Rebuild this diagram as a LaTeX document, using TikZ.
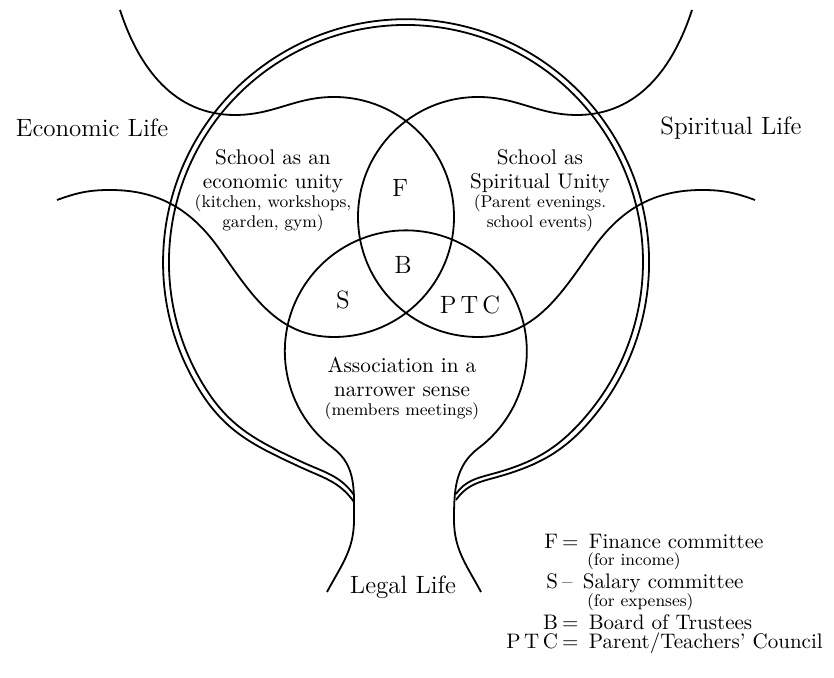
\documentclass[tikz,border=0pt]{standalone}
\usepackage{tikz}
\usetikzlibrary{positioning}

\begin{document}
\begin{tikzpicture}[x=0.5pt, y=0.5pt, line width=0.9pt,
    every node/.style={inner sep=0pt, outer sep=0pt},
    life/.style={font=\fontsize{12.5}{15}\selectfont},
    sphere/.style={align=center, font=\fontsize{10.6}{12}\selectfont},
    detail/.style={align=center, font=\fontsize{8.5}{10}\selectfont},
    letter/.style={font=\fontsize{12.5}{15}\selectfont},
    legendkey/.style={font=\fontsize{10.5}{12}\selectfont, anchor=base east},
    legend/.style={font=\fontsize{10.5}{12}\selectfont, anchor=base west},
    legendnote/.style={font=\fontsize{8.5}{10}\selectfont, anchor=base west}]
    \useasboundingbox (0,0) rectangle (834,678);

    % Economic life: stem to the upper left, round the left circle
    \draw (120,668) to[out=-72,in=180] (235,563) to[out=0,in=180] (334,581)
        arc[start angle=90, end angle=-90, radius=120]
        to[out=180,in=-55] (220,428) to[out=125,in=0] (110,488) to[out=180,in=20] (57,478);
    % Spiritual life: stem to the upper right, round the right circle
    \draw (692,668) to[out=-108,in=0] (577,563) to[out=180,in=0] (478,581)
        arc[start angle=90, end angle=270, radius=120]
        to[out=0,in=235] (592,428) to[out=55,in=180] (702,488) to[out=0,in=160] (755,478);
    % Legal life: lower circle with its stem
    \draw (327,86) to[out=62,in=270] (354,158) to[out=90,in=-37] (333,230)
        arc[start angle=233, end angle=-53, radius=121]
        to[out=217,in=90] (454,158) to[out=270,in=118] (481,86);

    % The school (double outline running into the stem)
    \draw (354,176) to[out=125,in=-25] (300,211) to[out=155,in=-58] (200,287)
        arc[start angle=212, end angle=-40, radius=243]
        to[out=230,in=15] (490,199) to[out=195,in=55] (456,178);
    \draw (354,183) to[out=125,in=-25] (302,216) to[out=155,in=-58] (205,290.4)
        arc[start angle=212, end angle=-40, radius=237]
        to[out=230,in=15] (492,204) to[out=195,in=55] (456,184);

    % Labels
    \node[life] (econlife) at (92,550) {Economic Life};
    \node[life] (spiritlife) at (731,550) {Spiritual Life};
    \node[life] (legallife) at (403,91) {Legal Life};

    \node[sphere] (econ) at (273,507) {School as an\\economic unity};
    \node[detail, below=1pt of econ] (econnote) {(kitchen, workshops,\\garden, gym)};
    \node[sphere] (spirit) at (540,507) {School as\\Spiritual Unity};
    \node[detail, below=1pt of spirit] (spiritnote) {(Parent evenings.\\school events)};
    \node[sphere] (assoc) at (402,301) {Association in a\\narrower sense};
    \node[detail, below=3pt of assoc] (assocnote) {(members meetings)};

    \node[letter] (F) at (400,490) {F};
    \node[letter] (B) at (403,413) {B};
    \node[letter] (S) at (343,378) {S};
    \node[letter] (PTC) at (470,373) {P\,T\,C};

    % Legend
    \node[legendkey] (keyF) at (558,129) {F};
    \node[legend] (legF) at (562,129) {= \,Finance committee};
    \node[legendnote] (noteF) at (587,112) {(for income)};
    \node[legendkey] (keyS) at (558,89) {S};
    \node[legend] (legS) at (562,89) {\textendash{} \,Salary committee};
    \node[legendnote] (noteS) at (587,71) {(for expenses)};
    \node[legendkey] (keyB) at (558,48) {B};
    \node[legend] (legB) at (562,48) {= \,Board of Trustees};
    \node[legendkey] (keyPTC) at (558,29) {P\,T\,C};
    \node[legend] (legPTC) at (562,29) {= \,Parent/Teachers' Council};
\end{tikzpicture}
\end{document}
